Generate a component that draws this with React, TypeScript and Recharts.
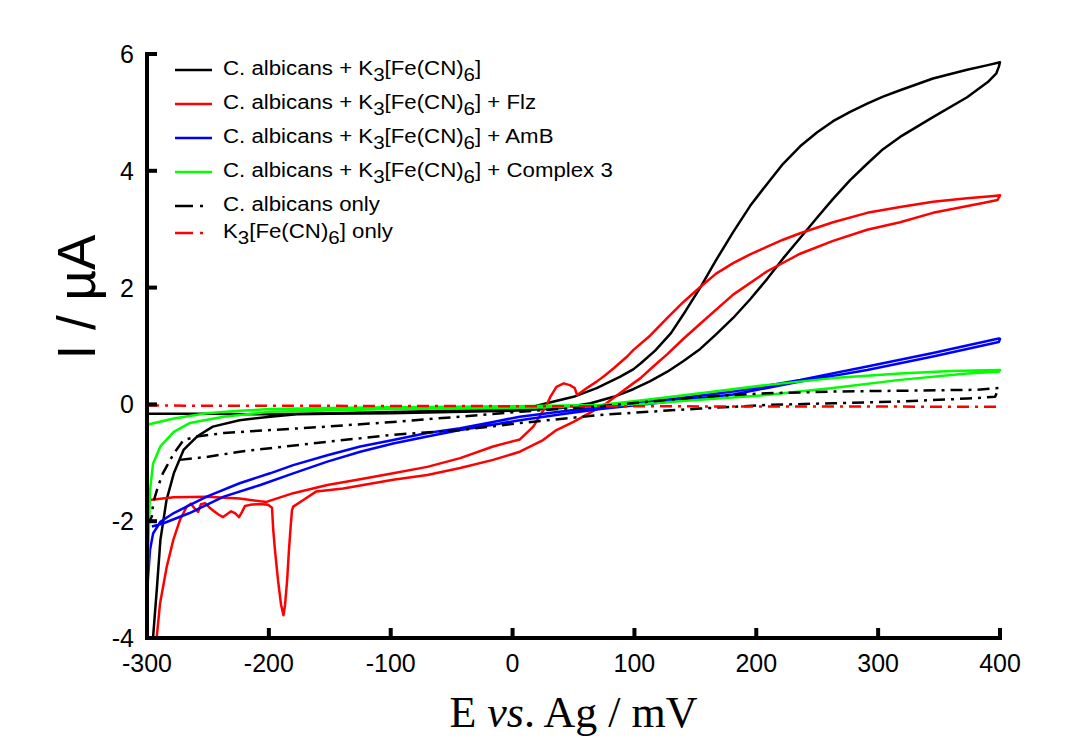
import React from 'react';
import { LineChart, Line, XAxis, YAxis, Legend, Label } from 'recharts';

type Pt = [number, number];

// potential (mV) and current (µA) ticks
const potentialTicks = [-300, -200, -100, 0, 100, 200, 300, 400];
const currentTicks = [-4, -2, 0, 2, 4, 6];

const seriesNames = [
  'C. albicans + K3[Fe(CN)6]',
  'C. albicans + K3[Fe(CN)6] + Flz',
  'C. albicans + K3[Fe(CN)6] + AmB',
  'C. albicans + K3[Fe(CN)6] + Complex 3',
  'C. albicans only',
  'K3[Fe(CN)6] only',
];

// each voltammogram as [E, I] pairs, in scan order
const albicansFe: Pt[] = [
  [-300, -0.16], [-250, -0.16], [-200, -0.17], [-150, -0.15], [-100, -0.13], [-50, -0.11], [0, -0.09],
  [15, -0.05], [28, 0.02], [50, 0.13], [69, 0.28], [88, 0.47], [99, 0.6], [105, 0.7], [117, 0.92],
  [130, 1.22], [142, 1.6], [154, 2.0], [167, 2.47], [181, 2.95], [195, 3.4], [209, 3.78], [222, 4.12],
  [236, 4.42], [250, 4.66], [263, 4.85], [277, 5.01], [291, 5.15], [304, 5.27], [318, 5.38], [345, 5.58],
  [373, 5.73], [390, 5.81], [400, 5.86],
  [399, 5.78], [397, 5.67], [390, 5.52], [373, 5.26], [345, 4.92], [318, 4.58], [304, 4.37], [291, 4.12],
  [277, 3.84], [263, 3.52], [250, 3.2], [236, 2.85], [222, 2.5], [209, 2.15], [195, 1.8], [181, 1.48],
  [167, 1.2], [154, 0.95], [140, 0.74], [127, 0.56], [113, 0.4], [99, 0.26], [83, 0.13],
  [64, 0.02], [40, -0.06], [0, -0.11], [-50, -0.13], [-100, -0.15], [-150, -0.16], [-177, -0.17],
  [-199, -0.21], [-224, -0.27], [-246, -0.38], [-259, -0.55], [-270, -0.78], [-278, -1.18], [-284, -1.64],
  [-289, -2.32], [-292, -3.18], [-295, -3.98],
];

const albicansFeFlz: Pt[] = [
  [-300, -1.64], [-278, -1.59], [-251, -1.58], [-224, -1.61], [-207, -1.66], [-202, -1.67], [-180, -1.52],
  [-152, -1.38], [-125, -1.28], [-98, -1.18], [-70, -1.07], [-43, -0.92], [-16, -0.72], [6, -0.6],
  [17, -0.38], [22, -0.21], [28, -0.01], [31, 0.13], [36, 0.3], [42, 0.36], [47, 0.33], [51, 0.28],
  [53, 0.16], [55, 0.19], [61, 0.28], [69, 0.39], [76, 0.5], [83, 0.62], [94, 0.82], [99, 0.93],
  [113, 1.18], [127, 1.48], [140, 1.75], [154, 2.01], [167, 2.24], [181, 2.42], [195, 2.57], [209, 2.7],
  [222, 2.82], [236, 2.93], [263, 3.12], [291, 3.28], [318, 3.38], [345, 3.47], [373, 3.53], [395, 3.57],
  [400, 3.58],
  [398, 3.5], [386, 3.45], [345, 3.28], [318, 3.12], [291, 2.99], [263, 2.8], [236, 2.58], [209, 2.28],
  [181, 1.88], [154, 1.38], [140, 1.12], [127, 0.86], [115, 0.64], [105, 0.45], [99, 0.36], [88, 0.19],
  [77, 0.02], [63, -0.15], [50, -0.3], [36, -0.44], [25, -0.61], [6, -0.81], [-16, -0.95], [-43, -1.09],
  [-70, -1.21], [-98, -1.29], [-139, -1.44], [-161, -1.49], [-172, -1.64], [-180, -1.75], [-181, -1.81],
  [-182, -2.06], [-183.5, -2.49], [-185, -3.01], [-186.7, -3.43], [-188, -3.61], [-190, -3.43],
  [-192.5, -3.01], [-195, -2.49], [-196.4, -2.15], [-197.4, -1.77], [-200.7, -1.72], [-205.6, -1.71],
  [-210.6, -1.71], [-215.5, -1.72], [-219.6, -1.74], [-222, -1.84], [-224.5, -1.93], [-227.8, -1.86],
  [-231, -1.83], [-234.4, -1.88], [-237.6, -1.93], [-241, -1.89], [-245, -1.83], [-249, -1.76],
  [-252.4, -1.69], [-255.7, -1.71], [-258, -1.84], [-260.6, -1.79], [-264, -1.7], [-267.4, -1.75],
  [-273, -1.98], [-278.4, -2.32], [-283.8, -2.78], [-289.3, -3.41], [-292, -3.98],
];

const albicansFeAmB: Pt[] = [
  [-296, -2.09], [-287, -2.04], [-265, -1.86], [-237, -1.58], [-207, -1.38], [-180, -1.18], [-152, -0.98],
  [-125, -0.81], [-98, -0.67], [-70, -0.55], [-43, -0.44], [-16, -0.35], [6, -0.27], [40, -0.17],
  [72, -0.08], [126, 0.04], [181, 0.17], [236, 0.39], [291, 0.59], [345, 0.82], [399, 1.07], [400, 1.12],
  [399, 1.13], [345, 0.88], [291, 0.65], [236, 0.42], [181, 0.22], [126, 0.08], [72, -0.04], [40, -0.12],
  [6, -0.21], [-16, -0.3], [-43, -0.41], [-70, -0.49], [-98, -0.61], [-125, -0.72], [-152, -0.87],
  [-180, -1.04], [-199, -1.18], [-224, -1.35], [-251, -1.58], [-278, -1.86], [-289, -2.01], [-295, -2.21],
  [-297.5, -2.49], [-299.5, -3.06],
];

const albicansFeComplex3: Pt[] = [
  [-300, -0.35], [-278, -0.24], [-251, -0.15], [-224, -0.11], [-199, -0.08], [-150, -0.06], [-100, -0.05],
  [-50, -0.04], [0, -0.03], [72, -0.01], [110, 0.08], [154, 0.19], [208, 0.33], [263, 0.45], [318, 0.53],
  [360, 0.57], [399, 0.59], [400, 0.59],
  [399, 0.56], [373, 0.53], [318, 0.42], [263, 0.28], [208, 0.16], [154, 0.08], [100, 0.0], [50, -0.04],
  [0, -0.06], [-100, -0.08], [-199, -0.125], [-237, -0.21], [-265, -0.32], [-278, -0.47], [-289, -0.72],
  [-295, -1.01], [-297.5, -1.47], [-299, -2.5], [-300, -4.0],
];

const albicansOnly: Pt[] = [
  [-273, -0.95], [-251, -0.9], [-224, -0.81], [-199, -0.75], [-152, -0.64], [-98, -0.52], [-43, -0.44],
  [6, -0.32], [72, -0.18], [154, -0.07], [208, -0.01], [263, 0.02], [318, 0.05], [373, 0.1], [396, 0.13],
  [399, 0.28], [381, 0.25], [263, 0.22], [208, 0.19], [154, 0.13], [72, -0.03], [6, -0.125], [-43, -0.21],
  [-98, -0.3], [-152, -0.38], [-199, -0.44], [-237, -0.49], [-259, -0.55], [-270, -0.61], [-278, -0.84],
  [-287, -1.18], [-291, -1.41], [-295, -1.69], [-296, -1.92], [-298, -2.0],
];

const feOnly: Pt[] = [
  [-300, -0.02], [0, -0.03], [400, -0.04],
];

const seriesData = [albicansFe, albicansFeFlz, albicansFeAmB, albicansFeComplex3, albicansOnly, feOnly];

const colors = ['#000000', '#ff0000', '#0000ff', '#00ff00', '#000000', '#ff0000'];
const dashes = [undefined, undefined, undefined, undefined, '12 6 3 6', '12 6 3 6'];
const legendDashes = [undefined, undefined, undefined, undefined, '18 7 3 30', '18 7 3 30'];
const legendRowHeights = [34, 34, 34, 34, 34, 20];

const SANS = '"Liberation Sans", Arial, sans-serif';
const SERIF = '"Liberation Serif", "Times New Roman", serif';

const margin = { top: 54, right: 91, bottom: 60, left: 87 };
const Y_AXIS_W = 60;
const X_AXIS_H = 40;
const WIDTH = 1091;
const HEIGHT = 738;
const PLOT_LEFT = margin.left + Y_AXIS_W;
const PLOT_BOTTOM = HEIGHT - margin.bottom - X_AXIS_H;

const toRows = (pts: Pt[]) => pts.map(([e, i]) => ({ e, i }));

// K3 and (CN)6 get subscripts
const withSubs = (s: string) =>
  s.split(/((?<=K)\d|(?<=\))\d)/).map((part, idx) =>
    idx % 2 === 1 ? (
      <span key={idx} style={{ fontSize: 18, position: 'relative', top: 6 }}>{part}</span>
    ) : (
      <React.Fragment key={idx}>{part}</React.Fragment>
    )
  );

const XTick = (props: any) => {
  const { x, payload } = props;
  return (
    <g>
      <line x1={x} x2={x} y1={PLOT_BOTTOM} y2={PLOT_BOTTOM - 10} stroke="#000" strokeWidth={4} />
      <text x={x} y={PLOT_BOTTOM + 34} textAnchor="middle" fontSize={25} fontFamily={SANS} fill="#000">
        {payload.value}
      </text>
    </g>
  );
};

const YTick = (props: any) => {
  const { y, payload } = props;
  return (
    <g>
      <line x1={PLOT_LEFT} x2={PLOT_LEFT + 10} y1={y} y2={y} stroke="#000" strokeWidth={4} />
      <text x={PLOT_LEFT - 13} y={y + 9} textAnchor="end" fontSize={25} fontFamily={SANS} fill="#000">
        {payload.value}
      </text>
    </g>
  );
};

const LegendBox = () => (
  <div style={{ fontFamily: SANS, fontSize: 19.5, color: '#000' }}>
    {seriesNames.map((name, i) => (
      <div key={name} style={{ display: 'flex', alignItems: 'center', height: legendRowHeights[i], whiteSpace: 'nowrap' }}>
        <svg width={37} height={6} style={{ marginRight: 11, marginTop: 3 }}>
          <line x1={0} x2={37} y1={3} y2={3} stroke={colors[i]} strokeWidth={2.5} strokeDasharray={legendDashes[i]} />
        </svg>
        <span style={{ display: 'inline-block', transform: 'scaleX(1.14)', transformOrigin: 'left center' }}>
          {withSubs(name)}
        </span>
      </div>
    ))}
  </div>
);

export default function App() {
  return (
    <div style={{ position: 'absolute', left: 0, top: 0, width: WIDTH, height: HEIGHT, background: '#fff' }}>
      <LineChart width={WIDTH} height={HEIGHT} margin={margin}>
        <XAxis
          type="number"
          dataKey="e"
          domain={[-300, 400]}
          ticks={potentialTicks}
          height={X_AXIS_H}
          axisLine={{ stroke: '#000', strokeWidth: 4, strokeLinecap: 'square' }}
          tickLine={false}
          tick={<XTick />}
        >
          <Label
            content={() => (
              <text x={(PLOT_LEFT + WIDTH - margin.right) / 2} y={727} textAnchor="middle" fontSize={44} fontFamily={SERIF} fill="#000">
                E <tspan fontStyle="italic">vs</tspan>. Ag / mV
              </text>
            )}
          />
        </XAxis>
        <YAxis
          type="number"
          domain={[-4, 6]}
          ticks={currentTicks}
          width={Y_AXIS_W}
          axisLine={{ stroke: '#000', strokeWidth: 4, strokeLinecap: 'square' }}
          tickLine={false}
          tick={<YTick />}
        >
          <Label
            content={() => (
              <text x={95} y={297} transform="rotate(-90 95 297)" textAnchor="middle" fontSize={53} fontFamily={SANS} fill="#000">
                I / µA
              </text>
            )}
          />
        </YAxis>
        <Legend
          layout="horizontal"
          verticalAlign="middle"
          align="center"
          wrapperStyle={{ top: 51, left: 175, width: 520 }}
          content={() => <LegendBox />}
        />
        {seriesData.map((pts, i) => (
          <Line
            key={seriesNames[i]}
            name={seriesNames[i]}
            data={toRows(pts)}
            dataKey="i"
            type="linear"
            stroke={colors[i]}
            strokeWidth={2.5}
            strokeDasharray={dashes[i]}
            strokeLinejoin="round"
            dot={false}
            activeDot={false}
            isAnimationActive={false}
          />
        ))}
      </LineChart>
    </div>
  );
}
